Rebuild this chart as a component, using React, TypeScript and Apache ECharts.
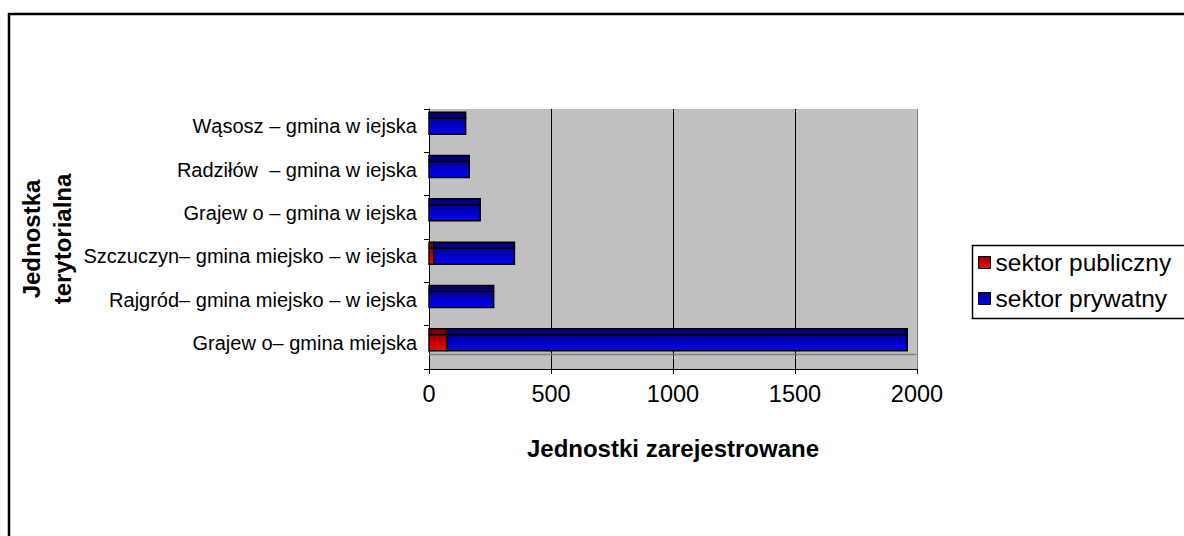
import React, { useEffect, useRef } from "react";
import * as echarts from "echarts";

const categories = [
  "Grajew o– gmina miejska",
  "Rajgród– gmina miejsko – w iejska",
  "Szczuczyn– gmina miejsko – w iejska",
  "Grajew o – gmina w iejska",
  "Radziłów  – gmina w iejska",
  "Wąsosz – gmina w iejska",
];
const publicSector = [75, 0, 20, 0, 0, 0];
const privateSector = [1885, 265, 330, 210, 165, 150];
const seriesNames = ["sektor publiczny", "sektor prywatny"];
const xMin = 0;
const xMax = 2000;
const xInterval = 500;
const xTitle = "Jednostki zarejestrowane";
const yTitle = "Jednostka\nterytorialna";

const FONT = "'Liberation Sans', Arial, sans-serif";

const redFront = new echarts.graphic.LinearGradient(0, 0, 0, 1, [
  { offset: 0, color: "#900000" },
  { offset: 1, color: "#ff0000" },
]);
const blueFront = new echarts.graphic.LinearGradient(0, 0, 0, 1, [
  { offset: 0, color: "#000090" },
  { offset: 1, color: "#0000ff" },
]);

function makeRender(front: any, top: string) {
  return (params: any, api: any) => {
    const cat = api.value(0);
    const s = api.value(1);
    const e = api.value(2);
    if (!(e > s)) return null;
    const p0 = api.coord([s, cat]);
    const p1 = api.coord([e, cat]);
    const band = api.size([0, 1])[1];
    const cy = p0[1];
    const ft = cy - 0.289 * band;
    const fb = cy + 0.081 * band;
    const tt = cy - 0.427 * band;
    return {
      type: "group",
      children: [
        {
          type: "rect",
          shape: { x: p0[0], y: tt, width: p1[0] - p0[0], height: ft - tt },
          style: { fill: top, stroke: "#000", lineWidth: 1.5 },
        },
        {
          type: "rect",
          shape: { x: p0[0], y: ft, width: p1[0] - p0[0], height: fb - ft },
          style: { fill: front, stroke: "#000", lineWidth: 1.5 },
        },
      ],
    };
  };
}

export default function App() {
  const ref = useRef<HTMLDivElement>(null);
  useEffect(() => {
    if (!ref.current) return;
    const chart = echarts.init(ref.current, undefined, { renderer: "svg" });
    const pubData = categories.map((_, i) => [i, 0, publicSector[i]]);
    const privData = categories.map((_, i) => [
      i,
      publicSector[i],
      publicSector[i] + privateSector[i],
    ]);
    chart.setOption({
      animation: false,
      backgroundColor: "#ffffff",
      textStyle: { fontFamily: FONT },
      grid: {
        left: 429,
        top: 109,
        width: 488,
        height: 260,
        show: true,
        backgroundColor: "#c0c0c0",
        borderWidth: 0,
      },
      xAxis: {
        type: "value",
        min: xMin,
        max: xMax,
        interval: xInterval,
        name: xTitle,
        nameLocation: "middle",
        nameGap: 67,
        nameTextStyle: {
          fontFamily: FONT,
          fontSize: 24,
          fontWeight: "bold",
          color: "#000",
        },
        axisLine: { show: true, lineStyle: { color: "#000", width: 1 } },
        axisTick: { show: true, length: 5, lineStyle: { color: "#000" } },
        axisLabel: {
          fontFamily: FONT,
          fontSize: 23.5,
          color: "#000",
          margin: 13,
          formatter: (v: number) => String(v),
        },
        splitLine: {
          show: true,
          lineStyle: { color: ["#000", "#000", "#000", "#000", "#808080"], width: 1 },
        },
      },
      yAxis: {
        type: "category",
        data: categories,
        axisLine: { show: true, lineStyle: { color: "#000", width: 1 } },
        axisTick: { show: true, length: 5, interval: 0, lineStyle: { color: "#000" } },
        axisLabel: {
          color: "#000",
          margin: 12,
          interval: 0,
          formatter: (v: string) => `{a|${v}}`,
          rich: {
            a: {
              fontFamily: FONT,
              fontSize: 20,
              color: "#000",
              padding: [0, 0, 9, 0],
            },
          },
        },
        splitLine: { show: false },
      },
      legend: {
        orient: "vertical",
        left: 978,
        top: 250,
        padding: 0,
        itemWidth: 12,
        itemHeight: 12,
        itemGap: 11,
        icon: "rect",
        textStyle: { fontFamily: FONT, fontSize: 24.5, color: "#000" },
        data: [
          { name: seriesNames[0], itemStyle: { color: redFront, borderColor: "#000", borderWidth: 1 } },
          { name: seriesNames[1], itemStyle: { color: blueFront, borderColor: "#000", borderWidth: 1 } },
        ],
      },
      graphic: [
        {
          type: "rect",
          z: 0,
          shape: { x: 9, y: 14, width: 1300, height: 700 },
          style: { fill: "none", stroke: "#000", lineWidth: 2.5 },
        },
        {
          type: "rect",
          z: 0,
          shape: { x: 972.5, y: 245.5, width: 300, height: 73 },
          style: { fill: "#fff", stroke: "#000", lineWidth: 1.5 },
        },
        {
          type: "line",
          z: 1,
          shape: { x1: 429, y1: 354.5, x2: 916.5, y2: 354.5 },
          style: { stroke: "#808080", lineWidth: 1.5 },
        },
        {
          type: "text",
          z: 5,
          x: 47,
          y: 239,
          rotation: Math.PI / 2,
          style: {
            text: yTitle,
            font: `bold 24px ${FONT}`,
            fill: "#000",
            align: "center",
            verticalAlign: "middle",
            lineHeight: 31,
          },
        },
      ],
      series: [
        {
          name: seriesNames[0],
          type: "custom",
          renderItem: makeRender(redFront, "#7a0000"),
          encode: { x: [1, 2], y: 0 },
          itemStyle: { color: redFront },
          data: pubData,
          z: 3,
        },
        {
          name: seriesNames[1],
          type: "custom",
          renderItem: makeRender(blueFront, "#00007a"),
          encode: { x: [1, 2], y: 0 },
          itemStyle: { color: blueFront },
          data: privData,
          z: 3,
        },
      ],
    });
    return () => chart.dispose();
  }, []);
  return (
    <div
      ref={ref}
      style={{ position: "fixed", left: 0, top: 0, width: 1184, height: 536, background: "#fff" }}
    />
  );
}
